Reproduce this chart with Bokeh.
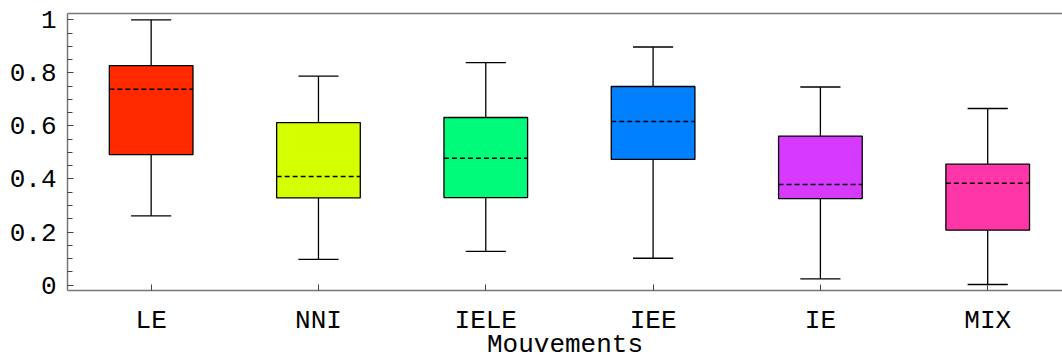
from bokeh.plotting import figure
from bokeh.models import FixedTicker, LinearAxis, Range1d, ColumnDataSource
from bokeh.embed import file_html
from bokeh.resources import INLINE

categories = ["LE", "NNI", "IELE", "IEE", "IE", "MIX"]
lower = [0.261, 0.097, 0.127, 0.101, 0.023, 0.002]
q1 = [0.492, 0.329, 0.330, 0.474, 0.326, 0.207]
median = [0.739, 0.409, 0.478, 0.617, 0.379, 0.384]
q3 = [0.828, 0.613, 0.632, 0.749, 0.562, 0.456]
upper = [1.0, 0.788, 0.839, 0.898, 0.747, 0.666]
colors = ["#FF2A00", "#D4FF00", "#00FA7A", "#0080FF", "#D63AFF", "#FF36A8"]

xs = list(range(len(categories)))
box_w = 0.5
cap_w = 0.24
src = ColumnDataSource(dict(
    x=xs, lower=lower, q1=q1, median=median, q3=q3, upper=upper, color=colors,
    bl=[x - box_w / 2 for x in xs], br=[x + box_w / 2 for x in xs],
    cl=[x - cap_w / 2 for x in xs], cr=[x + cap_w / 2 for x in xs],
))

FONT = "Liberation Mono"
AX = "#777777"

p = figure(width=1062, height=362, output_backend="svg", toolbar_location=None,
           x_range=Range1d(-0.5, 5.447), y_range=Range1d(-0.0207, 1.0244),
           min_border_left=67, min_border_right=0, min_border_top=13, min_border_bottom=0,
           x_axis_location="below")
p.grid.visible = False
p.outline_line_color = None
p.background_fill_color = "white"
p.border_fill_color = "white"

LW = 1.3
p.segment(x0="x", y0="q3", x1="x", y1="upper", source=src, line_color="black", line_width=LW)
p.segment(x0="x", y0="lower", x1="x", y1="q1", source=src, line_color="black", line_width=LW)
p.segment(x0="cl", y0="upper", x1="cr", y1="upper", source=src, line_color="black", line_width=LW)
p.segment(x0="cl", y0="lower", x1="cr", y1="lower", source=src, line_color="black", line_width=LW)
p.vbar(x="x", width=box_w, bottom="q1", top="q3", source=src, fill_color="color",
       line_color="black", line_width=LW)
p.segment(x0="bl", y0="median", x1="br", y1="median", source=src, line_color="black",
          line_width=1.5, line_dash="5 3")

xa = p.xaxis[0]
xa.ticker = FixedTicker(ticks=xs, minor_ticks=[])
xa.major_label_overrides = {i: c for i, c in enumerate(categories)}
xa.axis_label = "Mouvements"
ya = p.yaxis[0]
ya.ticker = FixedTicker(ticks=[0, 0.2, 0.4, 0.6, 0.8, 1.0],
                        minor_ticks=[i * 0.05 for i in range(21)])
ya.major_label_overrides = {0: "0", 0.2: "0.2", 0.4: "0.4", 0.6: "0.6", 0.8: "0.8", 1: "1"}

for ax in (xa, ya):
    ax.axis_line_color = AX
    ax.axis_line_width = 1.5
    ax.major_tick_line_color = "#444444"
    ax.minor_tick_line_color = "#444444"
    ax.major_tick_in = 6
    ax.major_tick_out = 0
    ax.minor_tick_in = 5
    ax.minor_tick_out = 0
    ax.major_label_text_font = FONT
    ax.major_label_text_font_size = "26px"
    ax.major_label_text_color = "black"
    ax.axis_label_text_font = FONT
    ax.axis_label_text_font_size = "26px"
    ax.axis_label_text_font_style = "normal"
    ax.axis_label_text_color = "black"
xa.major_label_standoff = 15
xa.axis_label_standoff = -9
ya.major_label_standoff = 11

top = LinearAxis(ticker=FixedTicker(ticks=[]), major_label_text_font_size="0px",
                 axis_line_color=AX, axis_line_width=1.5,
                 major_tick_in=0, major_tick_out=0, minor_tick_in=0, minor_tick_out=0)
p.add_layout(top, "above")

open("out.html", "w").write(file_html(p, INLINE))
